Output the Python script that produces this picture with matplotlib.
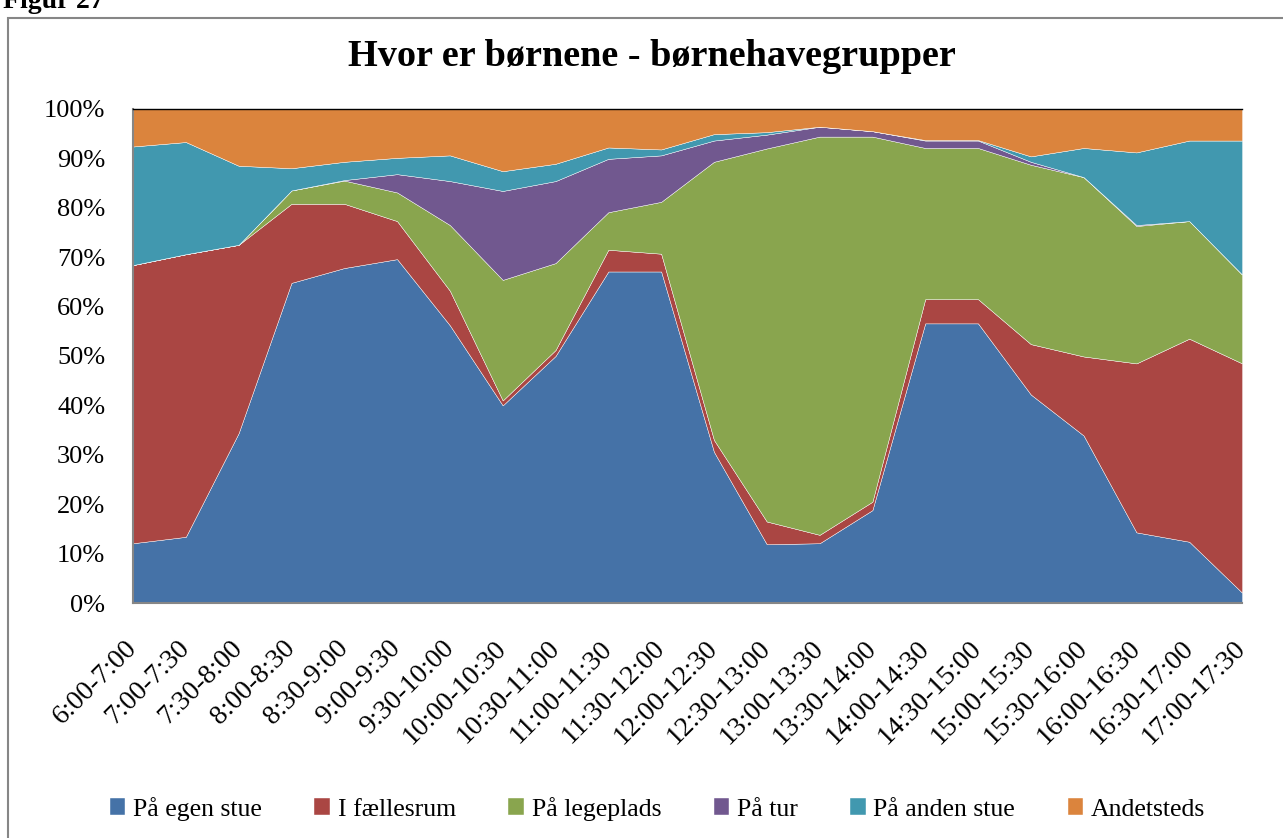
import matplotlib.pyplot as plt
from matplotlib.patches import Rectangle
import numpy as np

plt.rcParams['font.family'] = ['Liberation Serif', 'DejaVu Serif']

tider = ["6:00-7:00", "7:00-7:30", "7:30-8:00", "8:00-8:30", "8:30-9:00",
         "9:00-9:30", "9:30-10:00", "10:00-10:30", "10:30-11:00", "11:00-11:30",
         "11:30-12:00", "12:00-12:30", "12:30-13:00", "13:00-13:30", "13:30-14:00",
         "14:00-14:30", "14:30-15:00", "15:00-15:30", "15:30-16:00", "16:00-16:30",
         "16:30-17:00", "17:00-17:30"]

egen_stue = [12.1, 13.4, 34.4, 64.8, 67.8, 69.6, 56.2, 40.0, 50.0, 67.1, 67.1,
             30.6, 11.9, 12.1, 18.8, 56.6, 56.6, 42.2, 33.9, 14.3, 12.4, 2.1]
faellesrum = [56.3, 57.2, 38.1, 16.0, 13.0, 7.7, 7.0, 1.0, 1.2, 4.4, 3.6,
              2.4, 4.6, 1.7, 1.7, 4.9, 4.9, 10.2, 16.0, 34.2, 41.1, 46.4]
legeplads = [0.0, 0.0, 0.0, 2.7, 4.7, 5.8, 13.3, 24.4, 17.6, 7.6, 10.5,
             56.3, 75.5, 80.6, 73.9, 30.6, 30.6, 36.3, 36.3, 27.8, 23.8, 18.0]
paa_tur = [0.0, 0.0, 0.0, 0.0, 0.1, 3.7, 8.9, 18.0, 16.6, 10.8, 9.4,
           4.3, 2.8, 2.0, 1.1, 1.5, 1.5, 0.6, 0.0, 0.2, 0.0, 0.0]
anden_stue = [24.0, 22.7, 16.0, 4.5, 3.7, 3.3, 5.2, 4.0, 3.5, 2.3, 1.2,
              1.3, 0.5, 0.0, 0.0, 0.1, 0.1, 1.1, 5.9, 14.7, 16.3, 27.1]
andetsteds = [7.6, 6.7, 11.5, 12.0, 10.7, 9.9, 9.4, 12.6, 11.1, 7.8, 8.2,
              5.1, 4.7, 3.6, 4.5, 6.3, 6.3, 9.6, 7.9, 8.8, 6.4, 6.4]

serier = ["På egen stue", "I fællesrum", "På legeplads", "På tur", "På anden stue", "Andetsteds"]
farver = ["#4572A7", "#AA4643", "#89A54E", "#71588F", "#4198AF", "#DB843D"]

data = np.array([egen_stue, faellesrum, legeplads, paa_tur, anden_stue, andetsteds])
data = data / data.sum(axis=0) * 100
x = np.arange(len(tider))

fig = plt.figure(figsize=(12.83, 8.38), dpi=100)
ax = fig.add_axes([0.1037, 0.2804, 0.8644, 0.5896])

ax.stackplot(x, data, colors=farver, labels=serier, edgecolor="white", linewidth=0.3)

ax.set_xlim(0, len(tider) - 1)
ax.set_ylim(0, 100)
ax.set_yticks(np.arange(0, 101, 10))
ax.set_yticklabels([f"{v}%" for v in range(0, 101, 10)], fontsize=19)
ax.set_xticks(x)
ax.set_xticklabels(tider, fontsize=20, rotation=45, ha="right", va="center",
                   rotation_mode="anchor")
ax.tick_params(axis="y", length=0, pad=20)
ax.tick_params(axis="x", length=0, pad=30)

for side in ["left", "bottom"]:
    ax.spines[side].set_color("#868686")
    ax.spines[side].set_linewidth(1.5)
ax.spines["right"].set_visible(False)
ax.spines["top"].set_color("black")
ax.spines["top"].set_linewidth(1.0)

fig.text(652 / 1283, 1 - 56 / 838, "Hvor er børnene - børnehavegrupper",
         fontsize=27.5, fontweight="bold", ha="center", va="center")

fig.legend(loc="center", bbox_to_anchor=(0.5125, 0.035), ncol=6, frameon=False,
           fontsize=18.5, handlelength=0.6, handleheight=0.6, handletextpad=0.3,
           columnspacing=2.05)

# ramme rundt om diagrammet
fig.patches.append(Rectangle((8 / 1283, -0.1), 1.2, (838 - 18) / 838 + 0.1,
                             transform=fig.transFigure, fill=False,
                             edgecolor="#868686", linewidth=1.5, clip_on=False))
fig.text(0.002, 1.0 - 8 / 838, "Figur 27", fontsize=20, fontweight="bold",
         va="baseline", ha="left")

fig.savefig("out.png", dpi=100)
